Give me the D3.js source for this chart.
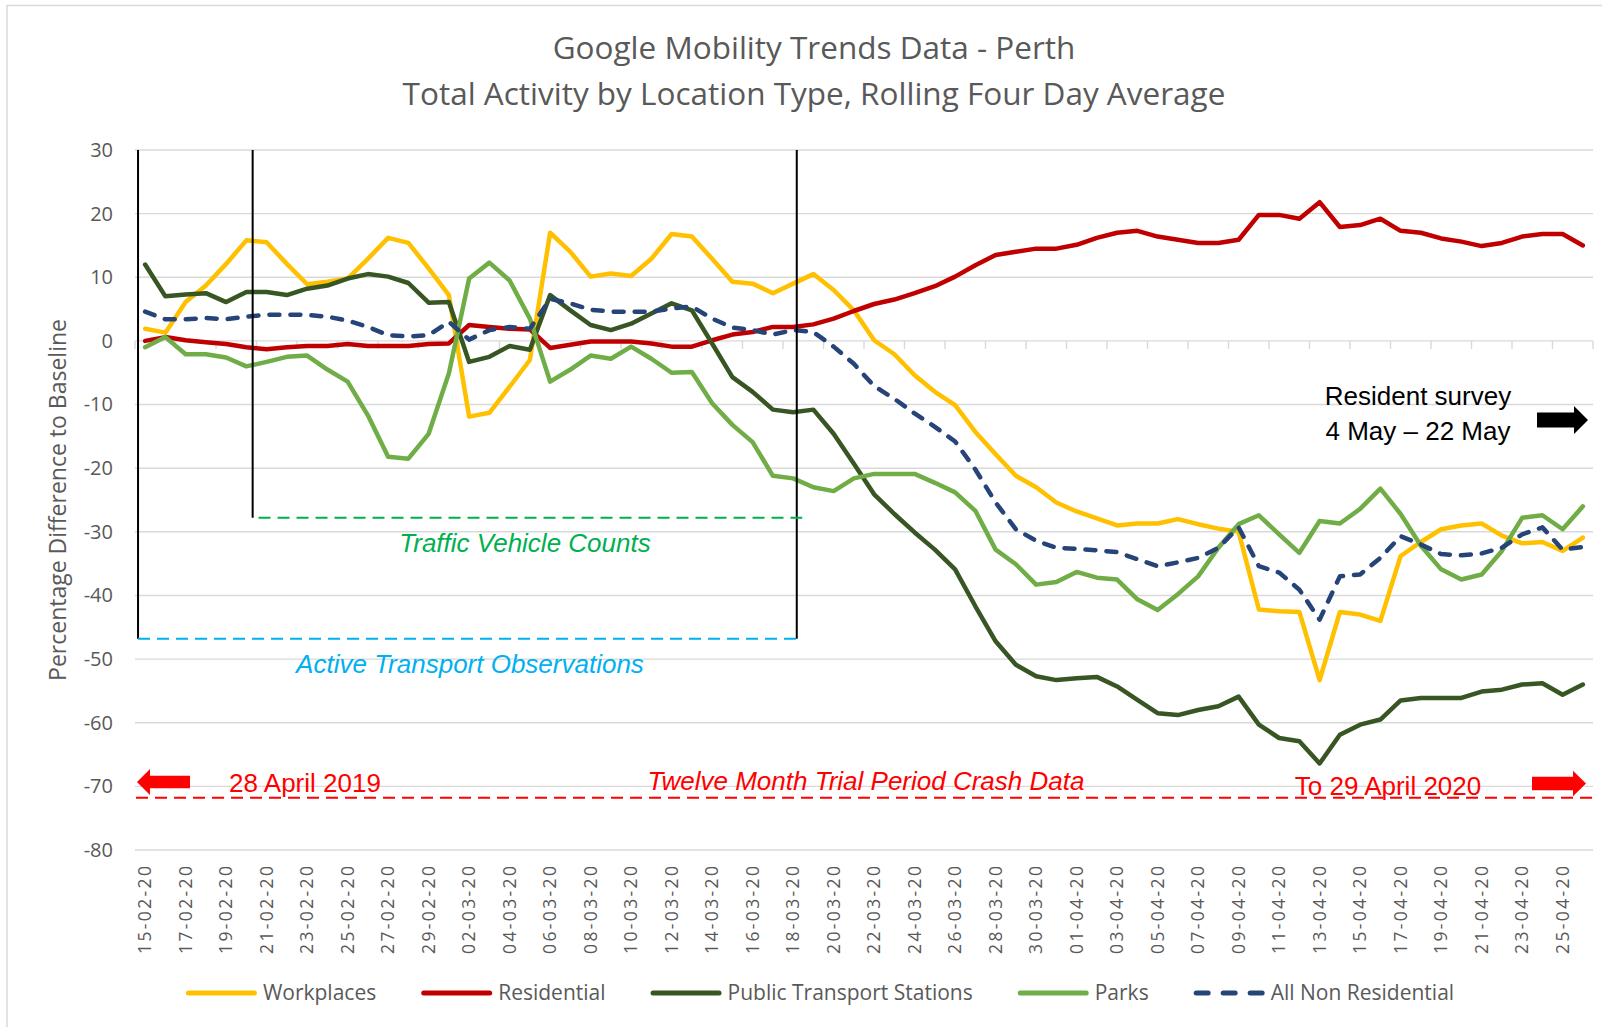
<!DOCTYPE html>
<html>
<head>
<meta charset="utf-8">
<script src="https://cdn.jsdelivr.net/npm/d3@7"></script>
<style>
  body { margin: 0; background: #fff; }
  text { font-family: "Open Sans", sans-serif; }
  .note { font-family: "Liberation Sans", Arial, sans-serif; }
</style>
</head>
<body>
<div id="chart"></div>
<script>
// categories (one per day)
var dates = [
  "15-02-20","16-02-20","17-02-20","18-02-20","19-02-20","20-02-20","21-02-20","22-02-20","23-02-20","24-02-20","25-02-20","26-02-20",
  "27-02-20","28-02-20","29-02-20","01-03-20","02-03-20","03-03-20","04-03-20","05-03-20","06-03-20","07-03-20","08-03-20","09-03-20",
  "10-03-20","11-03-20","12-03-20","13-03-20","14-03-20","15-03-20","16-03-20","17-03-20","18-03-20","19-03-20","20-03-20","21-03-20",
  "22-03-20","23-03-20","24-03-20","25-03-20","26-03-20","27-03-20","28-03-20","29-03-20","30-03-20","31-03-20","01-04-20","02-04-20",
  "03-04-20","04-04-20","05-04-20","06-04-20","07-04-20","08-04-20","09-04-20","10-04-20","11-04-20","12-04-20","13-04-20","14-04-20",
  "15-04-20","16-04-20","17-04-20","18-04-20","19-04-20","20-04-20","21-04-20","22-04-20","23-04-20","24-04-20","25-04-20","26-04-20"
];

var workplaces = [
  1.9, 1.3, 6.1, 8.7, 12.1, 15.8, 15.5, 12.1, 8.9, 9.3, 9.8, 12.9,
  16.2, 15.4, 11.4, 7.2, -11.9, -11.3, -7.2, -3.0, 17.0, 14.0, 10.1, 10.6,
  10.2, 12.9, 16.8, 16.4, 12.9, 9.3, 9.0, 7.5, 9.0, 10.5, 8.0, 4.8,
  0.1, -2.1, -5.4, -8.0, -10.1, -14.3, -17.8, -21.2, -23.0, -25.4, -26.8, -27.9,
  -29.0, -28.7, -28.7, -28.0, -28.8, -29.5, -30.0, -42.2, -42.5, -42.6, -53.3, -42.6,
  -43.0, -44.0, -33.8, -31.6, -29.6, -29.0, -28.7, -30.6, -31.8, -31.6, -33.0, -30.9
];

var residential = [
  0.0, 0.6, 0.1, -0.2, -0.5, -1.0, -1.3, -1.0, -0.8, -0.8, -0.5, -0.8,
  -0.8, -0.8, -0.5, -0.4, 2.5, 2.2, 1.9, 1.8, -1.1, -0.6, -0.1, -0.1,
  -0.1, -0.4, -0.9, -0.9, 0.1, 1.0, 1.4, 2.2, 2.2, 2.6, 3.5, 4.7,
  5.8, 6.5, 7.5, 8.6, 10.1, 11.9, 13.5, 14.0, 14.5, 14.5, 15.1, 16.2,
  17.0, 17.3, 16.4, 15.9, 15.4, 15.4, 15.9, 19.8, 19.8, 19.2, 21.8, 17.9,
  18.2, 19.2, 17.3, 17.0, 16.1, 15.6, 14.9, 15.4, 16.4, 16.8, 16.8, 15.0
];

var transit = [
  12.0, 7.0, 7.3, 7.5, 6.1, 7.7, 7.7, 7.2, 8.2, 8.7, 9.8, 10.5,
  10.1, 9.1, 6.0, 6.1, -3.3, -2.5, -0.8, -1.4, 7.2, 4.8, 2.5, 1.7,
  2.7, 4.3, 5.9, 4.8, -0.4, -5.7, -8.0, -10.8, -11.2, -10.8, -14.6, -19.3,
  -24.1, -27.2, -30.1, -32.8, -35.9, -41.7, -47.2, -50.9, -52.7, -53.3, -53.0, -52.8,
  -54.3, -56.4, -58.5, -58.8, -58.0, -57.4, -55.9, -60.3, -62.4, -62.9, -66.4, -61.9,
  -60.3, -59.5, -56.5, -56.1, -56.1, -56.1, -55.1, -54.8, -54.0, -53.8, -55.6, -54.0
];

var parks = [
  -1.0, 0.6, -2.1, -2.1, -2.6, -4.0, -3.3, -2.5, -2.3, -4.5, -6.4, -11.7,
  -18.2, -18.5, -14.6, -5.1, 9.8, 12.3, 9.5, 3.5, -6.4, -4.5, -2.3, -2.8,
  -0.9, -2.8, -5.0, -4.9, -9.8, -13.2, -15.9, -21.2, -21.6, -23.0, -23.6, -21.6,
  -20.9, -20.9, -20.9, -22.3, -23.8, -26.7, -32.8, -35.1, -38.3, -37.9, -36.3, -37.2,
  -37.5, -40.6, -42.3, -39.8, -37.0, -32.5, -28.8, -27.4, -30.4, -33.3, -28.3, -28.7,
  -26.4, -23.2, -27.2, -32.2, -35.9, -37.5, -36.7, -33.0, -27.8, -27.4, -29.6, -26.0
];

var nonResidential = [
  4.6, 3.4, 3.4, 3.6, 3.4, 3.8, 4.1, 4.1, 4.1, 3.8, 3.2, 2.2,
  0.9, 0.7, 0.9, 3.0, 0.2, 1.7, 2.2, 1.9, 6.6, 5.9, 4.9, 4.6,
  4.6, 4.6, 5.1, 5.4, 3.5, 2.1, 1.7, 1.0, 1.7, 1.4, -0.9, -3.6,
  -7.1, -9.1, -11.4, -13.5, -15.8, -20.2, -25.4, -29.6, -31.4, -32.5, -32.7, -32.9,
  -33.2, -34.3, -35.4, -34.8, -34.1, -32.5, -29.3, -35.4, -36.4, -39.1, -43.8, -37.0,
  -36.7, -34.1, -30.7, -32.0, -33.5, -33.7, -33.4, -32.5, -30.4, -29.3, -32.8, -32.4
];

var seriesNames = ["Workplaces", "Residential", "Public Transport Stations", "Parks", "All Non Residential"];
var yTicks = [30, 20, 10, 0, -10, -20, -30, -40, -50, -60, -70, -80];

var width = 1602, height = 1027;
var plot = {left: 135, right: 1593, top: 150, bottom: 850};

var series = [
  {name: seriesNames[0], values: workplaces, color: "#FFC000", dash: null},
  {name: seriesNames[1], values: residential, color: "#C00000", dash: null},
  {name: seriesNames[2], values: transit, color: "#375623", dash: null},
  {name: seriesNames[3], values: parks, color: "#70AD47", dash: null},
  {name: seriesNames[4], values: nonResidential, color: "#264478", dash: "10,11"}
];

var xScale = d3.scaleBand()
  .domain(dates)
  .range([plot.left, plot.right]);

// fractional day position, used by the drawn-on annotations
var xDay = d3.scaleLinear()
  .domain([-0.5, dates.length - 0.5])
  .range([plot.left, plot.right]);

var yScale = d3.scaleLinear()
  .domain([-80, 30])
  .range([plot.bottom, plot.top]);

var svg = d3.select("#chart").append("svg")
  .attr("width", width)
  .attr("height", height);

svg.append("rect")
  .attr("x", 7).attr("y", 5.5)
  .attr("width", 1600).attr("height", 1030)
  .attr("fill", "#fff")
  .attr("stroke", "#D9D9D9")
  .attr("stroke-width", 1.5);

// title
var title = svg.append("g").attr("fill", "#595959").style("font-size", "31.5px").attr("text-anchor", "middle");
title.append("text").attr("x", 814).attr("y", 59).text("Google Mobility Trends Data - Perth");
title.append("text").attr("x", 814).attr("y", 105).text("Total Activity by Location Type, Rolling Four Day Average");

// gridlines
svg.append("g").selectAll("line")
  .data(yTicks)
  .enter().append("line")
  .attr("x1", plot.left).attr("x2", plot.right)
  .attr("y1", function(d) { return yScale(d); })
  .attr("y2", function(d) { return yScale(d); })
  .attr("stroke", "#D9D9D9")
  .attr("stroke-width", 1.4);

// category tick marks on the zero line, every second day
var tickIdx = d3.range(0, dates.length + 1, 2);
svg.append("g").selectAll("line")
  .data(tickIdx)
  .enter().append("line")
  .attr("x1", function(d) { return xDay(d - 0.5); })
  .attr("x2", function(d) { return xDay(d - 0.5); })
  .attr("y1", yScale(0))
  .attr("y2", yScale(0) + 8)
  .attr("stroke", "#D9D9D9")
  .attr("stroke-width", 1.4);

// y axis labels (plain hyphen for negatives, as in Excel)
var yAxis = svg.append("g")
  .attr("transform", "translate(" + (plot.left - 22) + ",0)")
  .call(d3.axisLeft(yScale)
    .tickValues(yTicks)
    .tickFormat(function(d) { return String(d); })
    .tickSize(0).tickPadding(0));
yAxis.select(".domain").remove();
yAxis.selectAll("text")
  .attr("fill", "#595959")
  .style("font-family", "Open Sans")
  .style("font-size", "20px");

svg.append("text")
  .attr("transform", "translate(66,500) rotate(-90)")
  .attr("text-anchor", "middle")
  .attr("fill", "#595959")
  .style("font-size", "23px")
  .text("Percentage Difference to Baseline");

// x axis labels
var xAxis = svg.append("g")
  .attr("transform", "translate(0,866)")
  .call(d3.axisBottom(xScale)
    .tickValues(dates.filter(function(d, i) { return i % 2 === 0; }))
    .tickSize(0));
xAxis.select(".domain").remove();
xAxis.selectAll("text")
  .attr("transform", "rotate(-90)")
  .attr("x", 0).attr("y", 0).attr("dy", "0.36em")
  .attr("text-anchor", "end")
  .attr("textLength", 88)
  .attr("lengthAdjust", "spacing")
  .attr("fill", "#595959")
  .style("font-family", "Open Sans")
  .style("font-size", "17.5px");

// series lines
var line = d3.line()
  .x(function(d, i) { return xScale(dates[i]) + xScale.bandwidth() / 2; })
  .y(function(d) { return yScale(d); });

svg.append("g").selectAll("path")
  .data(series)
  .enter().append("path")
  .attr("d", function(d) { return line(d.values); })
  .attr("fill", "none")
  .attr("stroke", function(d) { return d.color; })
  .attr("stroke-width", 4.5)
  .attr("stroke-linejoin", "round")
  .attr("stroke-linecap", "round")
  .attr("stroke-dasharray", function(d) { return d.dash; });

// annotation shapes
var ann = svg.append("g");

function vline(day, bottom) {
  ann.append("line")
    .attr("x1", xDay(day)).attr("x2", xDay(day))
    .attr("y1", yScale(30)).attr("y2", yScale(bottom))
    .attr("stroke", "#000").attr("stroke-width", 2);
}
vline(-0.35, -46.8);
vline(5.31, -27.8);
vline(32.18, -46.8);

function hdash(from, to, value, color) {
  ann.append("line")
    .attr("x1", xDay(from)).attr("x2", xDay(to))
    .attr("y1", yScale(value)).attr("y2", yScale(value))
    .attr("stroke", color).attr("stroke-width", 2)
    .attr("stroke-dasharray", "12,7");
}
hdash(5.6, 32.45, -27.8, "#00B050");
hdash(-0.35, 32.18, -46.8, "#00B0F0");
hdash(-0.45, 71.45, -71.8, "#FF0000");

function arrow(tipX, cy, dir, bodyLen, headLen, bodyHalf, headHalf, color) {
  var bx = tipX - dir * headLen, ex = tipX - dir * (headLen + bodyLen);
  var pts = [[tipX, cy], [bx, cy - headHalf], [bx, cy - bodyHalf], [ex, cy - bodyHalf],
             [ex, cy + bodyHalf], [bx, cy + bodyHalf], [bx, cy + headHalf]];
  ann.append("path")
    .attr("d", d3.line()(pts) + "Z")
    .attr("fill", color);
}
arrow(137, 782, -1, 40, 13, 6.3, 13, "#FF0000");
arrow(1586, 783.5, 1, 41, 13, 6.7, 12.7, "#FF0000");
arrow(1588, 420, 1, 37, 14, 7.5, 14, "#000");

function note(x, y, str, color, italic) {
  ann.append("text")
    .attr("class", "note")
    .attr("x", x).attr("y", y)
    .attr("text-anchor", "middle")
    .attr("fill", color)
    .style("font-size", "26px")
    .style("font-style", italic ? "italic" : "normal")
    .text(str);
}
note(525, 552, "Traffic Vehicle Counts", "#00B050", true);
note(470, 673, "Active Transport Observations", "#00B0F0", true);
note(305, 792, "28 April 2019", "#FF0000", false);
note(866, 790, "Twelve Month Trial Period Crash Data", "#FF0000", true);
note(1388, 795, "To 29 April 2020", "#FF0000", false);
note(1418, 405, "Resident survey", "#000", false);
note(1418, 440, "4 May \u2013 22 May", "#000", false);

// legend
var legend = svg.append("g");
var items = legend.selectAll("g")
  .data(series)
  .enter().append("g");

items.append("line")
  .attr("x1", 2.5).attr("x2", 68.5)
  .attr("y1", 0).attr("y2", 0)
  .attr("stroke", function(d) { return d.color; })
  .attr("stroke-width", 5)
  .attr("stroke-linecap", "round")
  .attr("stroke-dasharray", function(d) { return d.dash ? "12,15" : null; });

items.append("text")
  .attr("x", 77).attr("y", 0).attr("dy", "0.35em")
  .attr("fill", "#595959")
  .style("font-size", "21px")
  .text(function(d) { return d.name; });

var pos = 0, gap = 45;
items.each(function() {
  var w = 77 + d3.select(this).select("text").node().getComputedTextLength();
  d3.select(this).attr("data-x", pos);
  pos += w + gap;
});
var total = pos - gap;
items.attr("transform", function() {
  return "translate(" + (820 - total / 2 + (+this.getAttribute("data-x"))) + ",993)";
});
</script>
</body>
</html>
